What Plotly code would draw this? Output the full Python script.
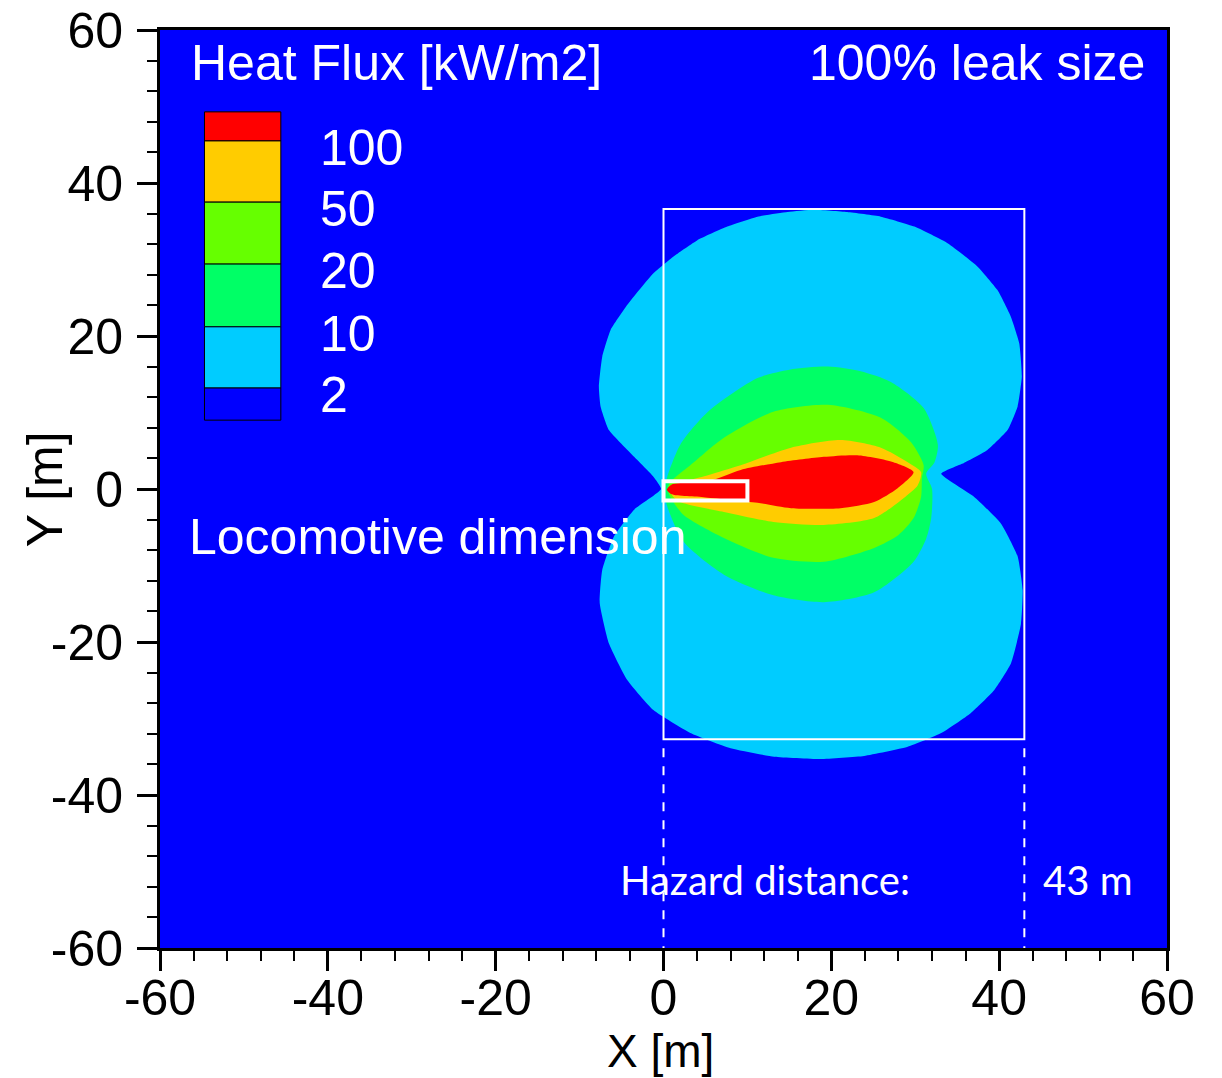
import plotly.graph_objects as go

# ---------------- data ----------------
LEVELS = ["100", "50", "20", "10", "2"]
LEVEL_COLORS = ["#ff0000", "#ffcc00", "#66ff00", "#00ff66", "#00ccff"]
BACKGROUND_COLOR = "#0000ff"

# contour boundaries (x, y in m), region with heat flux >= level
C2_X = [-0.3, -1.2, -3.5, -6.5, -7.5, -7.7, -7.3, -6.3, -4.5, -2.9, -1.2, 1.2, 4.0, 7.6, 11.2,
        14.8, 17.9, 21.9, 25.9, 29.9, 33.9, 37.4, 39.8, 41.4, 42.4, 42.7, 42.2, 41.0, 38.6, 35.8,
        33.1, 37.0, 40.2, 42.2, 42.8, 42.6, 41.4, 39.4, 36.6, 33.1, 29.1, 23.9, 18.7, 13.2, 8.0,
        3.2, -1.2, -4.3, -6.5, -7.6, -7.3, -5.9, -3.5]
C2_Y = [0.0, 1.6, 4.2, 7.7, 10.8, 13.4, 17.3, 20.8, 23.8, 26.0, 28.2, 30.4, 32.5, 34.3, 35.6,
        36.2, 36.5, 36.2, 35.6, 34.3, 32.1, 29.1, 26.0, 22.5, 19.0, 14.7, 10.8, 7.7, 5.1, 3.4,
        2.0, -1.0, -4.5, -8.8, -13.2, -17.6, -22.8, -26.3, -29.3, -31.9, -33.7, -34.9, -35.3, -35.0, -33.9,
        -31.9, -28.9, -25.0, -20.2, -14.9, -10.6, -6.2, -2.7]

C10_X = [0.2, 0.4, 2.0, 5.3, 11.2, 15.0, 19.6, 23.5, 27.1, 31.0, 32.7, 32.3, 31.3, 32.0, 31.9,
         31.3, 29.8, 25.1, 19.1, 13.1, 7.2, 2.4, 0.4]
C10_Y = [-0.2, 1.4, 5.8, 10.1, 14.5, 15.6, 16.0, 15.4, 14.0, 10.6, 5.8, 3.5, 2.0, 0.0, -3.8,
         -6.5, -9.5, -13.5, -14.8, -13.9, -11.2, -6.9, -2.1]

C20_X = [0.5, 0.8, 3.2, 7.2, 13.1, 19.6, 25.9, 29.5, 31.0, 30.8, 30.7, 29.8, 28.0, 25.1, 19.1,
         13.1, 7.2, 2.4, 0.8]
C20_Y = [0.0, 0.9, 3.1, 6.7, 10.1, 11.0, 9.3, 6.1, 3.1, 1.5, -1.0, -3.8, -6.0, -7.7, -9.5,
         -9.0, -6.4, -3.4, -1.0]

C50_X = [1.0, 5.3, 9.2, 15.2, 21.1, 25.9, 29.1, 30.7, 30.3, 28.6, 25.1, 19.1, 13.1, 7.2, 2.0, 1.0]
C50_Y = [0.3, 1.8, 3.1, 5.4, 6.4, 5.4, 3.5, 2.2, 0.5, -1.2, -3.8, -4.7, -4.3, -3.0, -1.7, -0.8]

C100_X = [0.4, 1.0, 5.3, 9.2, 14.0, 19.1, 23.1, 27.4, 29.8, 27.9, 25.1, 21.1, 15.2, 11.2, 5.0, 1.0]
C100_Y = [-0.1, 0.6, 1.0, 2.5, 3.5, 4.2, 4.4, 3.5, 2.2, 0.1, -1.7, -2.5, -2.5, -1.8, -1.1, -0.7]

CONTOURS = [(C2_X, C2_Y), (C10_X, C10_Y), (C20_X, C20_Y), (C50_X, C50_Y), (C100_X, C100_Y)]

LOCOMOTIVE_X = [0.0, 10.0]
LOCOMOTIVE_Y = [-1.5, 1.0]
HAZARD_X = [0.0, 43.0]
HAZARD_Y = [-32.7, 36.6]
HAZARD_DISTANCE = 43

X_RANGE = [-60, 60]
Y_RANGE = [-60, 60]
TICK_VALUES = [-60, -40, -20, 0, 20, 40, 60]
TICK_LABELS = ["-60", "-40", "-20", "0", "20", "40", "60"]

# ---------------- figure ----------------
FONT = "Liberation Sans, Arial, sans-serif"
fig = go.Figure()

fill_colors = list(reversed(LEVEL_COLORS))  # 2, 10, 20, 50, 100
for i, ((cx, cy), col) in enumerate(zip(CONTOURS, fill_colors)):
    line_style = dict(width=0, color=col, shape="spline", smoothing=0.45 if i == 0 else 0.7)
    fig.add_trace(go.Scatter(x=cx + [cx[0]], y=cy + [cy[0]], mode="lines", fill="toself",
                             fillcolor=col, line=line_style,
                             hoverinfo="skip", showlegend=False))

shapes = []
# locomotive outline
shapes.append(dict(type="rect", xref="x", yref="y", x0=LOCOMOTIVE_X[0], x1=LOCOMOTIVE_X[1],
                   y0=LOCOMOTIVE_Y[0], y1=LOCOMOTIVE_Y[1], line=dict(color="white", width=4)))
# hazard box
shapes.append(dict(type="rect", xref="x", yref="y", x0=HAZARD_X[0], x1=HAZARD_X[1],
                   y0=HAZARD_Y[0], y1=HAZARD_Y[1], line=dict(color="white", width=2)))
for hx in HAZARD_X:
    shapes.append(dict(type="line", xref="x", yref="y", x0=hx, x1=hx, y0=HAZARD_Y[0] - 1.2,
                       y1=Y_RANGE[0], line=dict(color="white", width=2, dash="dash")))

# legend colour bar
leg_x0, leg_x1 = -54.7, -45.6
bounds = [49.3, 45.5, 37.5, 29.4, 21.2, 13.2, 9.0]
bar_colors = LEVEL_COLORS + [BACKGROUND_COLOR]
for i, col in enumerate(bar_colors):
    shapes.append(dict(type="rect", xref="x", yref="y", x0=leg_x0, x1=leg_x1,
                       y0=bounds[i + 1], y1=bounds[i], fillcolor=col,
                       line=dict(color="black", width=1)))

annotations = []
for i, lab in enumerate(LEVELS):
    annotations.append(dict(x=-41.2, y=bounds[i + 1] - 0.9, xref="x", yref="y", text=lab,
                            showarrow=False, xanchor="left", yanchor="middle",
                            font=dict(family=FONT, size=50, color="white")))
annotations += [
    dict(x=-56.6, y=55.7, xref="x", yref="y", text="Heat Flux [kW/m2]", showarrow=False,
         xanchor="left", yanchor="middle", font=dict(family=FONT, size=50, color="white")),
    dict(x=57.6, y=55.7, xref="x", yref="y", text="100% leak size", showarrow=False,
         xanchor="right", yanchor="middle", font=dict(family=FONT, size=50, color="white")),
    dict(x=-56.8, y=-6.3, xref="x", yref="y", text="Locomotive dimension", showarrow=False,
         xanchor="left", yanchor="middle", font=dict(family=FONT, size=50, color="white")),
    dict(x=-5.4, y=-51.1, xref="x", yref="y", text="Hazard distance:", showarrow=False,
         xanchor="left", yanchor="middle", font=dict(family="Lato, sans-serif", size=40, color="white")),
    dict(x=50.6, y=-51.1, xref="x", yref="y", text=f"{HAZARD_DISTANCE} m", showarrow=False,
         xanchor="center", yanchor="middle", font=dict(family="Lato, sans-serif", size=40, color="white")),
    dict(x=0.497, y=-0.1122, xref="paper", yref="paper", text="X [m]", showarrow=False,
         xanchor="center", yanchor="middle", font=dict(family=FONT, size=46, color="black")),
    dict(x=-0.114, y=0.5, xref="paper", yref="paper", text="Y [m]", showarrow=False, textangle=-90,
         xanchor="center", yanchor="middle", font=dict(family=FONT, size=50, color="black")),
]

axis_common = dict(showgrid=False, zeroline=False, showline=True, linecolor="black", linewidth=3,
                   mirror=True, ticks="outside", ticklen=20, tickwidth=3, tickcolor="black",
                   tickmode="array", tickvals=TICK_VALUES, ticktext=TICK_LABELS, automargin=False,
                   tickfont=dict(family=FONT, size=50, color="black"),
                   minor=dict(ticks="outside", dtick=4, tick0=-60, ticklen=10, tickwidth=1.5,
                              tickcolor="black"))

fig.update_layout(
    width=1222, height=1078,
    margin=dict(l=160, r=55, t=30, b=130),
    paper_bgcolor="white", plot_bgcolor=BACKGROUND_COLOR,
    xaxis=dict(range=X_RANGE, ticklabelstandoff=-16, **axis_common),
    yaxis=dict(range=Y_RANGE, ticklabelstandoff=4, **axis_common),
    shapes=shapes, annotations=annotations, showlegend=False,
)

fig.write_html("out.html")
